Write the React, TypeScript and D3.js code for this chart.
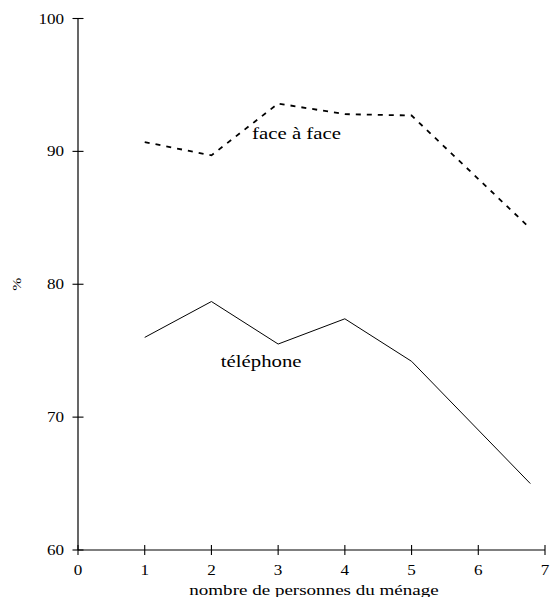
import React from "react";
import * as d3 from "d3";

const xTicks = [0, 1, 2, 3, 4, 5, 6, 7];
const yTicks = [60, 70, 80, 90, 100];
const householdSize = [1, 2, 3, 4, 5, 6.78];
const faceAFace = [90.7, 89.7, 93.6, 92.8, 92.7, 84.2];
const telephone = [76.0, 78.7, 75.5, 77.4, 74.2, 65.0];
const seriesLabels = [
  { text: "face à face", x: 2.61, y: 90.93 },
  { text: "téléphone", x: 2.14, y: 73.77 },
];
const xTitle = "nombre de personnes du ménage";
const yTitle = "%";

const W = 550;
const H = 597;
const FONT = "'Liberation Serif', 'Times New Roman', serif";
const SX = 1.22;

export default function App() {
  const x = d3.scaleLinear().domain([0, 7]).range([78, 545]);
  const y = d3.scaleLinear().domain([60, 100]).range([550, 18.5]);
  const line = d3
    .line<number>()
    .x((_, i) => x(householdSize[i]))
    .y((d) => y(d));

  const txt = (
    s: string,
    px: number,
    py: number,
    anchor: string,
    size: number,
    sx = SX,
    key?: string | number
  ) => (
    <text
      key={key}
      transform={`translate(${px},${py}) scale(${sx},1)`}
      textAnchor={anchor}
      fontSize={size}
      style={{ fontFamily: FONT }}
      fill="#000"
    >
      {s}
    </text>
  );

  return (
    <svg
      width={W}
      height={H}
      style={{ position: "absolute", left: 0, top: 0, background: "#fff" }}
    >
      <rect x={0} y={0} width={W} height={H} fill="#fff" />
      {/* y axis */}
      <line x1={x(0)} x2={x(0)} y1={y(100)} y2={y(60)} stroke="#000" strokeWidth={1.2} />
      {yTicks.map((t) => (
        <g key={"yt" + t}>
          <line x1={x(0) - 5.5} x2={x(0) + 5.5} y1={y(t)} y2={y(t)} stroke="#000" strokeWidth={1.1} />
          {txt(String(t), 64, y(t) + 5, "end", 14)}
        </g>
      ))}
      {/* x axis */}
      <line x1={x(0)} x2={x(7)} y1={y(60)} y2={y(60)} stroke="#000" strokeWidth={1.2} />
      {xTicks.map((t) => (
        <g key={"xt" + t}>
          <line x1={x(t)} x2={x(t)} y1={y(60) - 5} y2={y(60) + 5} stroke="#000" strokeWidth={1.1} />
          {txt(String(t), x(t), 575, "middle", 14)}
        </g>
      ))}
      {txt(xTitle, 314, 595, "middle", 15, 1.27)}
      <text
        transform={`translate(21,${y(80)}) rotate(-90) scale(1.2,1)`}
        textAnchor="middle"
        fontSize={13}
        style={{ fontFamily: FONT }}
      >
        {yTitle}
      </text>
      {/* series */}
      <path d={line(faceAFace) || ""} fill="none" stroke="#000" strokeWidth={1.8} strokeDasharray="5,6" />
      <path d={line(telephone) || ""} fill="none" stroke="#000" strokeWidth={1} />
      {seriesLabels.map((l, i) => txt(l.text, x(l.x), y(l.y), "start", 16, 1.3, "sl" + i))}
    </svg>
  );
}
